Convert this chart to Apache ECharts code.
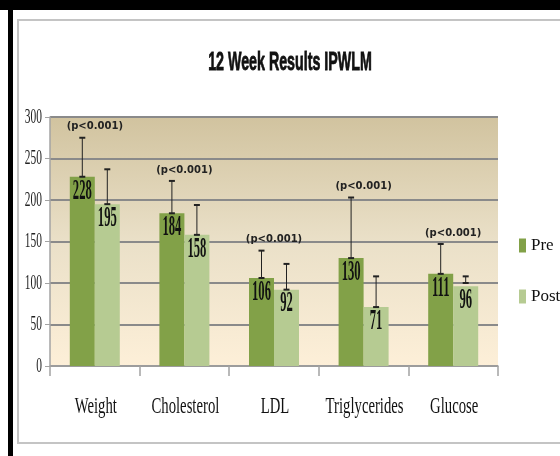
<!DOCTYPE html>
<html>
<head>
<meta charset="utf-8">
<script src="https://cdn.jsdelivr.net/npm/echarts@6/dist/echarts.min.js"></script>
<style>
  html, body { margin: 0; padding: 0; background: #fff; }
  .frame-top { position: absolute; left: 0; top: 0; width: 560px; height: 10px; background: #000; }
  .frame-left { position: absolute; left: 8px; top: 0; width: 5px; height: 456px; background: #000; }
  .panel { position: absolute; left: 17px; top: 19px; width: 620px; height: 421px; border: 2px solid #c4c4c4; }
  #chart { position: absolute; left: 0; top: 0; width: 560px; height: 456px; }
</style>
</head>
<body>
<div class="frame-top"></div>
<div class="frame-left"></div>
<div class="panel"></div>
<div id="chart"></div>
<script>
// data
const categories = ['Weight', 'Cholesterol', 'LDL', 'Triglycerides', 'Glucose']
const preValues = [228, 184, 106, 130, 111]
const postValues = [195, 158, 92, 71, 96]
const preErrLow = [228, 184, 106, 130, 111]
const preErrHigh = [275, 223, 139, 203, 147]
const postErrLow = [195, 158, 92, 71, 100]
const postErrHigh = [237, 194, 123, 108, 108]
const pLabels = ['(p<0.001)', '(p<0.001)', '(p<0.001)', '(p<0.001)', '(p<0.001)']
const yTicks = [0, 50, 100, 150, 200, 250, 300]

const PRE_COLOR = '#82a148'
const POST_COLOR = '#b6cb92'
const HALF_BAR = 12.5

const chart = echarts.init(document.getElementById('chart'))

// error bar drawn from low to high with caps
const errorBar = (offset) => (params, api) => {
  const i = api.value(0)
  const lo = api.coord([i, api.value(1)])
  const hi = api.coord([i, api.value(2)])
  const x = lo[0] + offset
  const stroke = '#222'
  return {
    type: 'group',
    children: [
      { type: 'line', shape: { x1: x, y1: lo[1], x2: x, y2: hi[1] }, style: { stroke, lineWidth: 1 } },
      { type: 'line', shape: { x1: x - 3, y1: hi[1], x2: x + 3, y2: hi[1] }, style: { stroke, lineWidth: 2 } },
      { type: 'line', shape: { x1: x - 3, y1: lo[1], x2: x + 3, y2: lo[1] }, style: { stroke, lineWidth: 2 } }
    ]
  }
}

// condensed serif number inside the bar top
const valueLabel = (offset) => (params, api) => {
  const p = api.coord([api.value(0), api.value(1)])
  return {
    type: 'text',
    x: p[0] + offset,
    y: p[1] + 14,
    scaleX: 0.42,
    style: {
      text: String(api.value(1)),
      align: 'center',
      verticalAlign: 'middle',
      fontFamily: 'Liberation Serif',
      fontWeight: 'bold',
      fontSize: 30,
      fill: '#111'
    }
  }
}

const option = {
  animation: false,
  grid: {
    left: 50,
    right: 62,
    top: 117,
    bottom: 90,
    show: true,
    borderWidth: 0,
    backgroundColor: new echarts.graphic.LinearGradient(0, 0, 0, 1, [
      { offset: 0, color: '#d1c39f' },
      { offset: 0.5, color: '#eae0c8' },
      { offset: 1, color: '#fdefd8' }
    ])
  },
  graphic: [
    {
      type: 'text',
      x: 290,
      y: 63,
      scaleX: 0.57,
      style: {
        text: '12 Week Results IPWLM',
        align: 'center',
        verticalAlign: 'middle',
        fontFamily: 'Liberation Sans',
        fontWeight: 'bold',
        fontSize: 25,
        fill: '#111',
        stroke: '#111',
        lineWidth: 0.8
      }
    }
  ],
  legend: {
    data: ['Pre', 'Post'],
    orient: 'vertical',
    left: 514,
    top: 232,
    icon: 'rect',
    itemWidth: 7,
    itemHeight: 14,
    itemGap: 34,
    textStyle: { fontFamily: 'Liberation Serif', fontSize: 17, color: '#111' }
  },
  xAxis: {
    type: 'category',
    data: categories,
    axisLine: { lineStyle: { color: '#a3a3a3', width: 1.5 } },
    axisTick: { show: true, length: 10, lineStyle: { color: '#a3a3a3', width: 1.5 } },
    axisLabel: { show: false }
  },
  yAxis: {
    type: 'value',
    min: 0,
    max: 300,
    interval: 50,
    axisLine: { show: true, lineStyle: { color: '#a3a3a3', width: 1.5 } },
    axisTick: { show: true, length: 5, lineStyle: { color: '#a3a3a3' } },
    axisLabel: { show: false },
    splitLine: { lineStyle: { color: '#8a8a8a', width: 2 } }
  },
  series: [
    {
      name: 'Pre',
      type: 'bar',
      data: preValues,
      barWidth: 25,
      barGap: '0%',
      itemStyle: { color: PRE_COLOR },
      z: 2
    },
    {
      name: 'Post',
      type: 'bar',
      data: postValues,
      barWidth: 25,
      barGap: '0%',
      itemStyle: { color: POST_COLOR },
      z: 2
    },
    {
      name: 'preErr',
      type: 'custom',
      silent: true,
      z: 3,
      data: categories.map((c, i) => [i, preErrLow[i], preErrHigh[i]]),
      renderItem: errorBar(-HALF_BAR)
    },
    {
      name: 'postErr',
      type: 'custom',
      silent: true,
      z: 3,
      data: categories.map((c, i) => [i, postErrLow[i], postErrHigh[i]]),
      renderItem: errorBar(HALF_BAR)
    },
    {
      name: 'preLabels',
      type: 'custom',
      silent: true,
      z: 4,
      data: preValues.map((v, i) => [i, v]),
      renderItem: valueLabel(-HALF_BAR)
    },
    {
      name: 'postLabels',
      type: 'custom',
      silent: true,
      z: 4,
      data: postValues.map((v, i) => [i, v]),
      renderItem: valueLabel(HALF_BAR)
    },
    {
      // p-value notes above the taller error bar of each group
      name: 'pValues',
      type: 'custom',
      silent: true,
      z: 4,
      data: categories.map((c, i) => [i, Math.max(preErrHigh[i], postErrHigh[i])]),
      renderItem: (params, api) => {
        const i = api.value(0)
        const p = api.coord([i, api.value(1)])
        return {
          type: 'text',
          x: p[0],
          y: p[1] - 11,
          style: {
            text: pLabels[i],
            align: 'center',
            verticalAlign: 'middle',
            fontFamily: 'DejaVu Sans',
            fontWeight: 'bold',
            fontSize: 10,
            fill: '#222'
          }
        }
      }
    },
    {
      // category names, condensed serif
      name: 'catLabels',
      type: 'custom',
      silent: true,
      data: categories.map((c, i) => [i, 0]),
      renderItem: (params, api) => {
        const i = api.value(0)
        const p = api.coord([i, 0])
        return {
          type: 'text',
          x: p[0] + 1,
          y: p[1] + 41,
          scaleX: 0.64,
          style: {
            text: categories[i],
            align: 'center',
            verticalAlign: 'middle',
            fontFamily: 'Liberation Serif',
            fontSize: 23,
            fill: '#111'
          }
        }
      }
    },
    {
      // y tick labels, condensed serif
      name: 'yLabels',
      type: 'custom',
      silent: true,
      data: yTicks.map(v => [0, v]),
      renderItem: (params, api) => {
        const v = api.value(1)
        const p = api.coord([0, v])
        const band = api.size([1, 0])[0]
        return {
          type: 'text',
          x: p[0] - band / 2 - 8,
          y: p[1],
          scaleX: 0.52,
          style: {
            text: String(v),
            align: 'right',
            verticalAlign: 'middle',
            fontFamily: 'Liberation Serif',
            fontSize: 22,
            fill: '#222'
          }
        }
      }
    }
  ]
}

chart.setOption(option)
</script>
</body>
</html>
